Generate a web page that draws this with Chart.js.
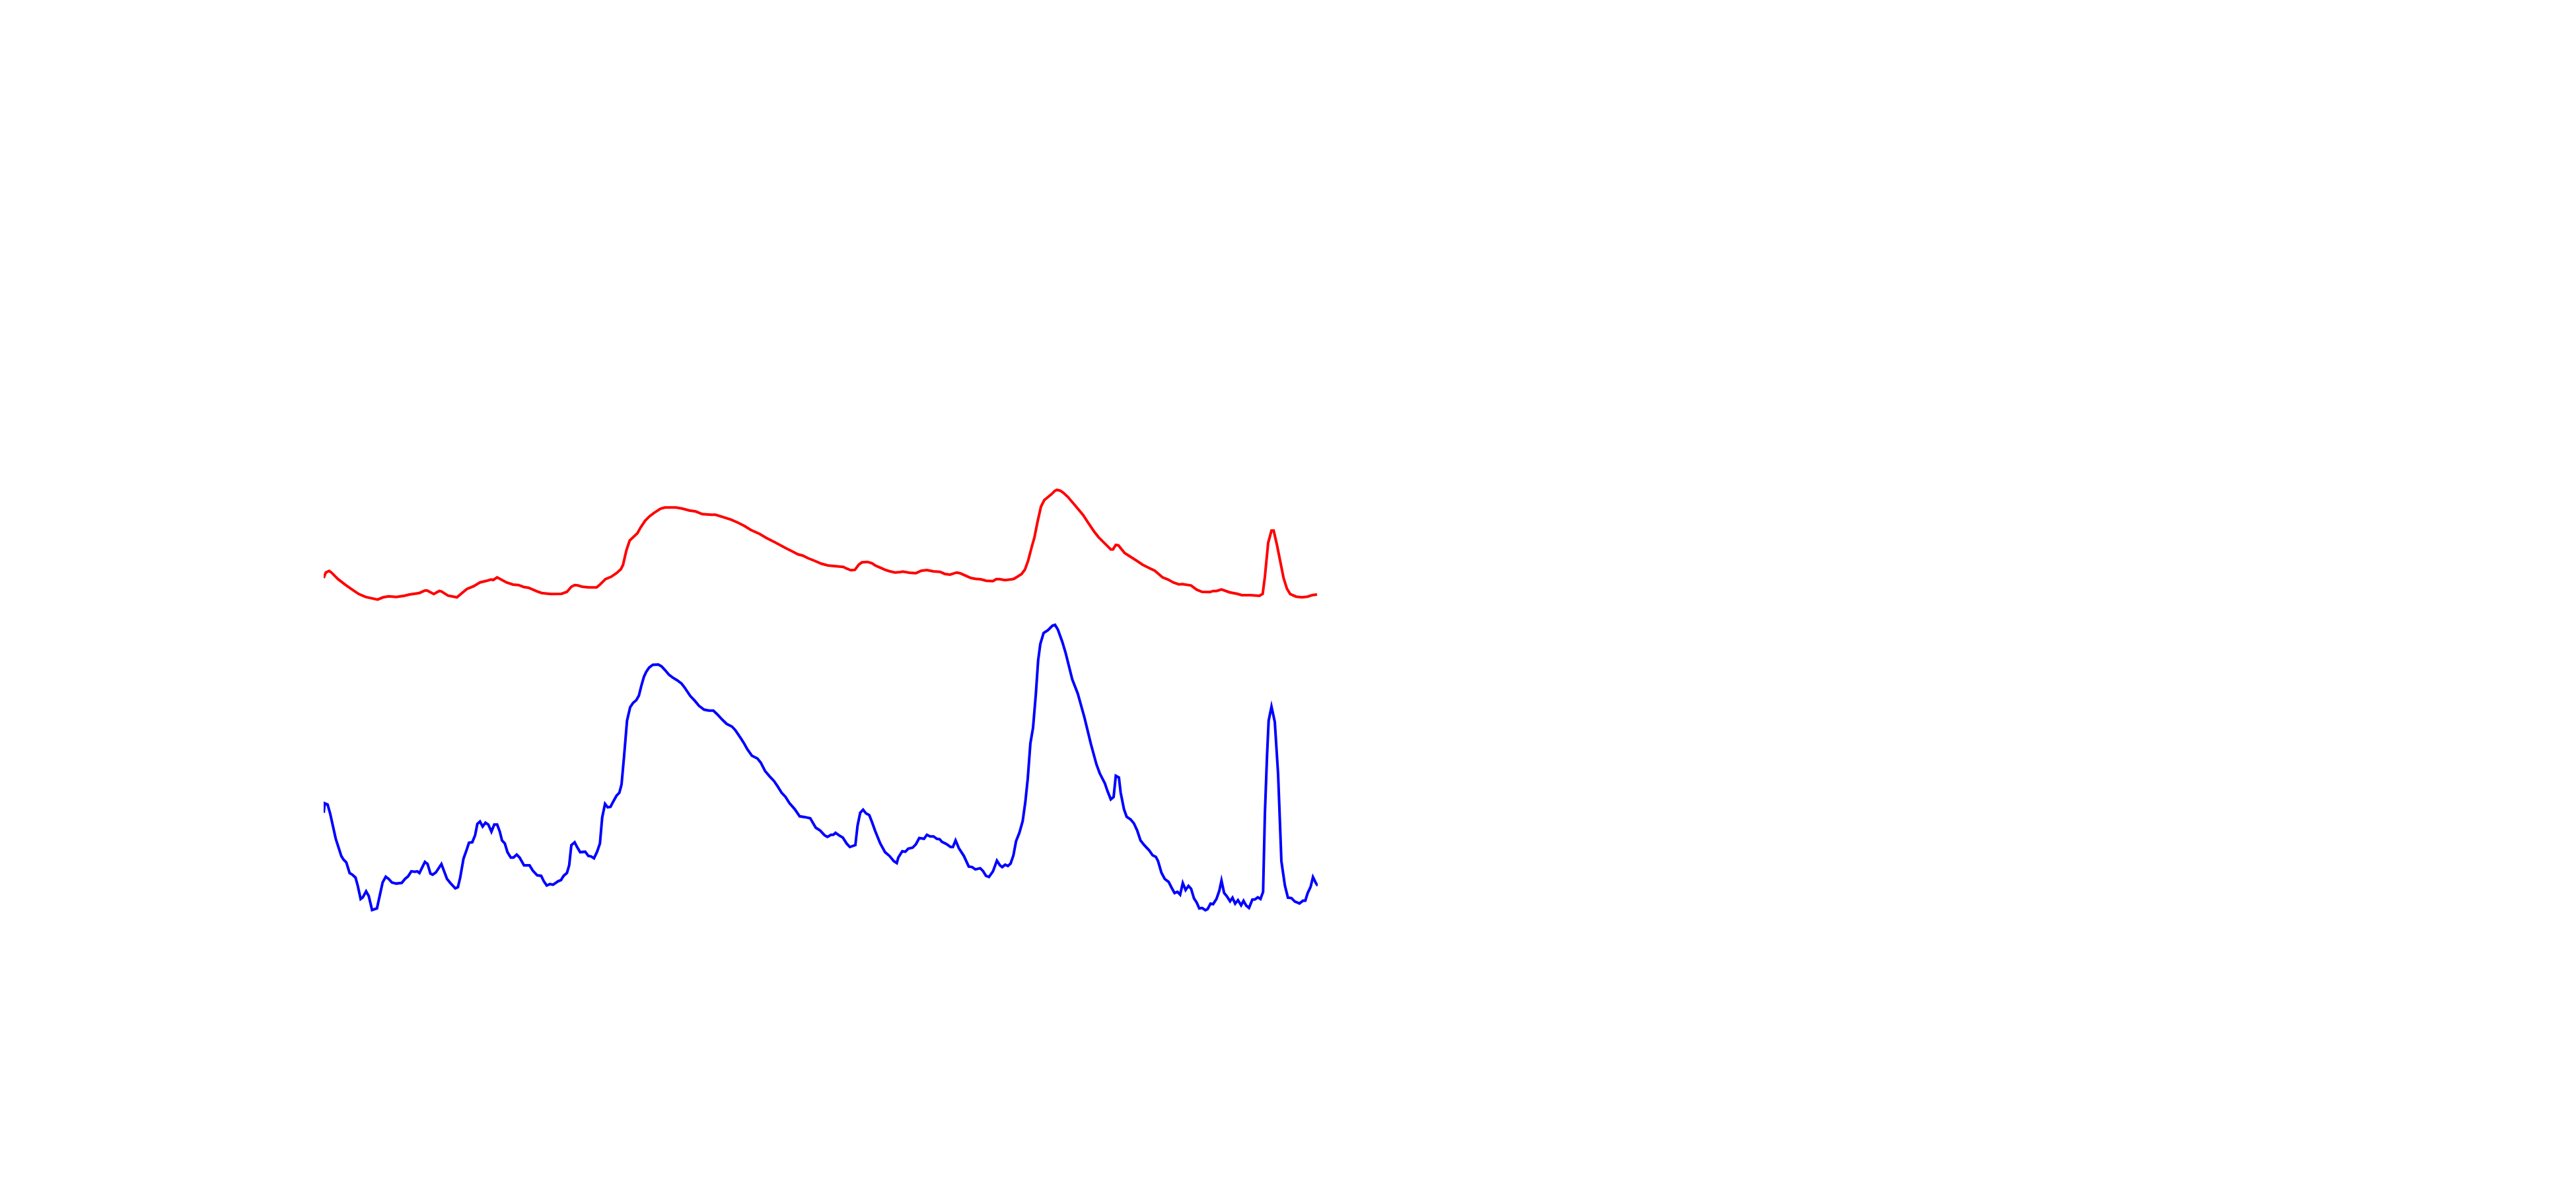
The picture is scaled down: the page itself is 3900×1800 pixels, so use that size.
<!DOCTYPE html>
<html>
<head>
<meta charset="utf-8">
<script src="https://cdn.jsdelivr.net/npm/chart.js@4"></script>
<style>
html,body{margin:0;padding:0;background:#fff;}
#c{display:block;}
</style>
</head>
<body>
<canvas id="c" width="3900" height="1800"></canvas>
<script>
// Red trace (upper): position along axis, intensity
const redX = [0,0.33,0.83,1.17,2.17,3.33,4.33,5.33,6.33,8.17,9.0,9.83,11.0,12.17,13.0,14.5,15.33,15.67,16.67,17.5,17.83,18.83,20.17,21.67,22.67,23.67,24.67,25.33,25.67,26.27,27.67,28.67,29.5,30.33,31.0,32.33,33.0,34.33,36.0,36.83,37.5,38.0,38.5,39.17,40.17,41.33,41.83,42.67,43.5,44.33,45.0,45.33,45.83,46.33,47.5,48.0,48.67,49.33,50.0,51.0,51.67,53.33,54.33,55.33,56.33,57.33,58.67,59.33,60.33,61.67,62.67,63.67,64.67,66.0,67.0,68.33,70.0,71.0,71.83,72.5,73.33,74.33,75.33,76.33,77.33,78.67,79.17,79.83,80.43,81.0,81.5,82.33,83.0,83.5,84.33,85.0,85.67,86.5,87.33,87.67,88.67,89.67,90.5,91.33,92.33,93.33,94.0,94.83,95.83,96.33,97.0,98.0,98.67,99.5,100.33,101.33,101.83,102.33,103.17,104.17,104.5,105.0,105.67,106.17,106.67,107.2,107.6,108.1,108.6,109.1,109.6,110.17,110.67,111.0,111.5,112.0,112.67,113.67,115.0,115.83,116.67,117.33,118.33,119.17,119.5,119.93,120.33,121.27,122.33,123.0,124.0,125.0,125.83,126.33,127.0,127.83,128.67,129.5,130.0,131.33,132.17,133.0,134.17,134.67,135.17,135.93,137.17,138.33,139.0,140.33,141.67,142.17,142.5,143.0,143.5,143.83,144.33,144.83,145.33,145.83,146.33,147.22,148.1,148.97,149.67,150.4];
const redY = [72.5,73.33,73.57,73.33,72.33,71.43,70.73,70.07,69.63,69.23,69.57,69.73,69.63,69.8,70.0,70.23,70.6,70.6,70.07,70.53,70.47,69.83,69.57,70.83,71.23,71.83,72.07,72.27,72.2,72.6,71.83,71.5,71.43,71.13,71.03,70.47,70.23,70.07,70.1,70.4,71.17,71.43,71.37,71.17,71.07,71.07,71.5,72.33,72.67,73.23,73.83,74.5,76.67,78.17,79.27,80.17,81.17,81.83,82.33,83.0,83.17,83.17,83.0,82.73,82.57,82.17,82.07,82.07,81.77,81.33,80.9,80.4,79.77,79.17,78.57,77.9,77.0,76.5,76.07,75.9,75.5,75.1,74.67,74.4,74.3,74.17,73.93,73.67,73.73,74.5,74.87,74.93,74.73,74.4,74.03,73.73,73.53,73.33,73.4,73.47,73.3,73.23,73.6,73.7,73.5,73.43,73.13,73.0,73.33,73.23,72.93,72.5,72.37,72.3,72.07,72.03,72.33,72.33,72.17,72.3,72.37,72.67,73.1,73.77,75.17,77.2,78.6,81.1,83.3,84.3,84.7,85.17,85.67,85.83,85.73,85.4,84.77,83.6,82.0,80.73,79.5,78.67,77.67,76.83,76.83,77.5,77.43,76.27,75.6,75.17,74.5,74.0,73.6,73.17,72.6,72.27,71.8,71.53,71.57,71.37,70.73,70.4,70.37,70.53,70.53,70.77,70.33,70.1,69.9,69.9,69.8,70.1,72.67,77.83,79.67,79.67,77.5,75.0,72.5,70.9,70.07,69.68,69.57,69.68,69.91,70.0];

// Blue trace (lower)
const blueX = [0,0.17,0.6,1.0,1.83,2.67,3.0,3.43,3.93,4.33,4.83,5.17,5.6,5.93,6.43,6.83,7.33,8.07,8.5,8.93,9.4,9.83,10.33,11.0,11.83,12.33,12.77,13.27,13.83,14.17,14.5,15.33,15.73,16.17,16.5,17.0,17.83,18.67,19.17,19.93,20.33,20.67,21.17,21.67,22.0,22.5,22.93,23.27,23.67,24.07,24.5,24.93,25.4,25.83,26.27,26.67,27.0,27.43,27.83,28.33,28.73,29.23,29.67,30.33,31.17,31.67,32.33,32.93,33.33,33.77,34.27,34.73,35.5,35.93,36.33,36.83,37.17,37.5,38.0,38.33,38.83,39.6,40.07,40.5,40.93,41.4,41.83,42.17,42.6,43.0,43.43,43.83,44.33,44.77,45.1,45.5,45.93,46.4,46.83,47.33,47.73,48.07,48.5,48.83,49.27,49.83,50.67,51.17,51.67,52.27,52.83,53.5,54.17,54.67,55.5,56.17,56.83,57.6,58.33,59.0,59.6,60.33,61.0,61.83,62.33,63.17,63.67,64.17,64.83,65.67,66.17,66.83,67.5,68.17,68.73,69.33,69.93,70.5,71.33,72.07,72.83,73.67,74.5,75.17,75.83,76.27,76.83,77.17,77.5,78.0,78.6,79.17,79.67,80.5,80.83,81.23,81.67,82.1,82.6,83.0,83.5,84.27,85.0,85.67,86.33,86.77,87.0,87.6,88.07,88.5,89.17,89.67,90.17,90.9,91.33,91.83,92.33,92.83,93.27,93.6,94.33,94.93,95.27,95.67,96.17,96.93,97.67,98.17,98.67,99.4,99.83,100.27,100.73,101.33,101.93,102.4,102.73,103.17,103.6,104.0,104.43,104.83,105.33,105.83,106.23,106.6,107.0,107.4,107.83,108.17,108.5,109.0,109.67,110.33,110.73,111.17,111.83,112.33,113.33,114.17,115.17,116.17,117.0,117.5,118.27,118.67,119.17,119.6,119.93,120.4,120.67,121.17,121.57,122.17,122.67,123.17,123.67,124.17,125.0,125.5,126.0,126.33,126.83,127.33,127.93,128.33,128.83,129.27,129.67,130.07,130.5,130.93,131.33,131.77,132.17,132.57,133.0,133.5,133.83,134.27,134.67,135.17,135.6,135.93,136.33,136.73,137.23,137.6,138.0,138.43,138.9,139.27,139.67,140.1,140.6,141.0,141.43,141.83,142.23,142.5,142.83,143.07,143.5,144.0,144.5,145.0,145.53,145.99,146.52,147.04,147.74,148.27,148.62,148.97,149.43,149.78,150.2,150.5];
const blueY = [36.95,38.38,38.2,36.78,33.02,30.42,29.88,29.45,27.84,27.59,27.13,25.88,23.91,24.16,25.06,24.34,22.23,22.48,24.45,26.41,27.27,26.95,26.41,26.24,26.34,26.95,27.31,28.09,28.02,28.09,27.84,29.52,29.2,27.74,27.59,27.95,29.2,26.95,26.34,25.52,25.7,27.13,29.99,31.42,32.42,32.49,33.56,35.27,35.63,34.88,35.45,35.17,34.1,35.17,35.17,34.1,32.77,32.31,30.99,30.17,30.17,30.63,30.17,28.99,28.99,28.2,27.49,27.41,26.59,25.95,26.16,26.06,26.59,26.77,27.41,27.84,28.99,32.06,32.49,31.84,30.99,31.06,30.42,30.34,30.06,31.06,32.31,36.24,38.31,37.78,37.85,38.63,39.53,39.99,41.24,45.71,50.89,52.93,53.57,54.0,54.71,56.07,57.57,58.28,58.93,59.36,59.39,59.11,58.57,57.86,57.43,57.03,56.53,55.89,54.64,53.93,53.14,52.57,52.43,52.43,51.85,51.07,50.42,50.0,49.46,48.21,47.42,46.53,45.6,45.17,44.56,43.28,42.49,41.78,40.96,39.99,39.35,38.45,37.49,36.42,36.31,36.13,34.7,34.27,33.56,33.31,33.63,33.63,33.92,33.56,33.2,32.31,31.77,32.06,34.99,36.95,37.42,36.88,36.6,35.6,34.2,32.31,30.99,30.42,29.63,29.34,30.17,31.13,31.06,31.52,31.67,32.2,33.13,33.02,33.63,33.38,33.38,33.02,32.95,32.56,32.2,31.77,31.77,32.77,31.59,30.42,28.81,28.74,28.38,28.56,28.13,27.41,27.24,28.09,29.7,28.99,28.74,29.09,28.91,29.27,30.52,32.67,33.92,35.7,38.56,42.13,47.49,49.82,55.0,60.0,62.5,64.17,64.6,65.27,65.4,64.67,62.83,61.17,57.17,55.0,51.42,47.32,44.28,42.92,41.42,40.24,38.99,39.35,42.56,42.31,39.99,37.49,36.35,35.95,35.35,34.27,32.77,32.13,31.24,30.52,30.27,29.63,27.91,26.95,26.49,25.7,24.81,24.98,24.56,26.31,25.27,25.88,25.45,23.98,23.38,22.48,22.55,22.2,22.38,23.2,23.13,23.91,25.16,26.7,24.81,24.34,23.56,24.09,23.2,23.73,22.95,23.63,22.91,22.55,23.81,23.84,24.16,23.91,24.98,36.78,45.71,50.89,53.03,50.71,42.85,29.63,25.94,24.1,24.04,23.52,23.23,23.64,23.64,24.79,25.77,27.21,26.35,25.9];

const xMin = 0, xMax = 150.5, yMin = 0, yMax = 160;

function pts(xs, ys){ return xs.map((x,i)=>({x:x, y:ys[i]})); }

new Chart(document.getElementById('c'), {
  type: 'line',
  data: {
    datasets: [
      { label: 'red', data: pts(redX, redY), borderColor: '#ff0000', borderWidth: 4, pointRadius: 0, fill: false, tension: 0 },
      { label: 'blue', data: pts(blueX, blueY), borderColor: '#0000ff', borderWidth: 4, pointRadius: 0, fill: false, tension: 0 }
    ]
  },
  options: {
    responsive: false,
    devicePixelRatio: 1,
    animation: false,
    layout: { padding: { left: 490, right: 1905, top: 0, bottom: 200 } },
    plugins: { legend: { display: false }, tooltip: { enabled: false }, title: { display: false } },
    scales: {
      x: { type: 'linear', min: xMin, max: xMax, display: false },
      y: { type: 'linear', min: yMin, max: yMax, display: false }
    }
  }
});
</script>
</body>
</html>
